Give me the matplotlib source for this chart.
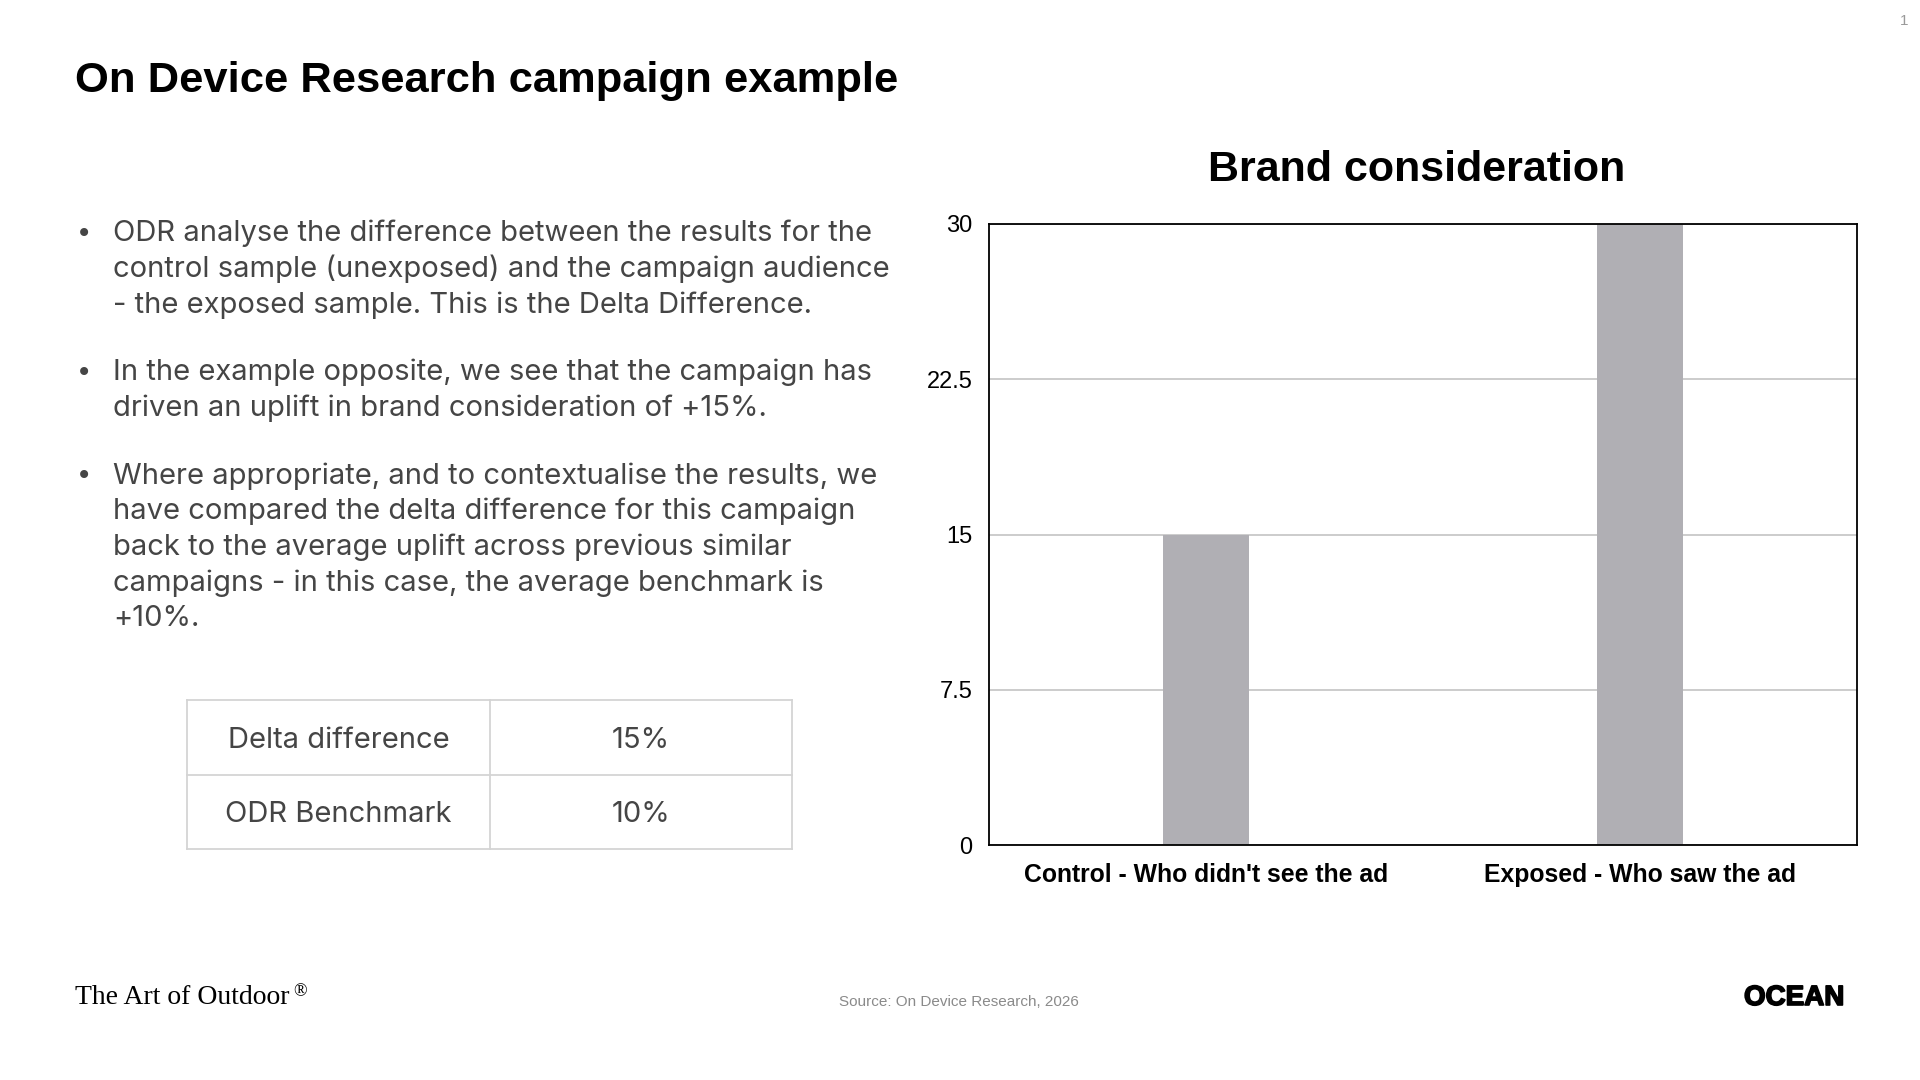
import matplotlib.pyplot as plt
import matplotlib.patheffects as pe

W, H = 1920, 1080

# chart data
categories = ["Control - Who didn't see the ad", "Exposed - Who saw the ad"]
values = [15, 30]
yticks = [0, 7.5, 15, 22.5, 30]
ytick_labels = ["0", "7.5", "15", "22.5", "30"]

# slide text
title = "On Device Research campaign example"
chart_title = "Brand consideration"
bullets = [
    ["ODR analyse the difference between the results for the",
     "control sample (unexposed) and the campaign audience",
     "- the exposed sample. This is the Delta Difference."],
    ["In the example opposite, we see that the campaign has",
     "driven an uplift in brand consideration of +15%."],
    ["Where appropriate, and to contextualise the results, we",
     "have compared the delta difference for this campaign",
     "back to the average uplift across previous similar",
     "campaigns - in this case, the average benchmark is",
     "+10%."],
]
table_rows = [["Delta difference", "15%"], ["ODR Benchmark", "10%"]]

fig = plt.figure(figsize=(W / 100, H / 100), dpi=100)
fig.patch.set_facecolor("white")

def fx(px):
    return px / W

def fy(py):
    return 1 - py / H

# headline
fig.text(fx(75), fy(81), title, fontsize=31.3, fontweight="bold",
         family="Liberation Sans", va="center", ha="left", color="black")

# bullets
body_col = "#454545"
y = 233.5
for b in bullets:
    fig.text(fx(84), fy(y), "\u2022", fontsize=20, family="DejaVu Sans",
             va="center", ha="center", color=body_col)
    for line in b:
        fig.text(fx(113), fy(y), line, fontsize=21, family="Inter",
                 va="center", ha="left", color=body_col)
        y += 35.7
    y += 32

# table
tx0, tx1, txm = 187, 792, 490
ty0, ty1, tym = 700, 849, 775
grid_col = "#d4d4d4"
for yy in (ty0, tym, ty1):
    fig.add_artist(plt.Line2D([fx(tx0), fx(tx1)], [fy(yy), fy(yy)], color=grid_col, lw=1.3))
for xx in (tx0, txm, tx1):
    fig.add_artist(plt.Line2D([fx(xx), fx(xx)], [fy(ty0), fy(ty1)], color=grid_col, lw=1.3))
row_mid = [(ty0 + tym) / 2 + 3, (tym + ty1) / 2 + 3]
for r, row in enumerate(table_rows):
    fig.text(fx((tx0 + txm) / 2), fy(row_mid[r]), row[0], fontsize=21, family="Inter",
             va="center", ha="center", color=body_col)
    fig.text(fx((txm + tx1) / 2), fy(row_mid[r]), row[1], fontsize=21, family="Inter",
             va="center", ha="center", color=body_col)

# bar chart
ax = fig.add_axes([fx(989), fy(845), fx(1857) - fx(989), fy(224) - fy(845)])
x = range(len(categories))
ax.bar(x, values, width=0.2, color="#b0afb4", zorder=2)
ax.set_xlim(-0.5, 1.5)
ax.set_ylim(0, 30)
ax.set_yticks(yticks)
ax.set_yticklabels(ytick_labels, family="Liberation Sans", fontsize=17)
ax.set_xticks(list(x))
ax.set_xticklabels(categories, family="Liberation Sans", fontsize=17.8, fontweight="bold")
ax.tick_params(length=0, pad=12)
ax.tick_params(axis="x", pad=13)
ax.yaxis.grid(True, color="#c4c4c4", lw=1.2, zorder=1)
for s in ax.spines.values():
    s.set_color("black")
    s.set_linewidth(1.3)
fig.text(fx(1417), fy(170), chart_title, fontsize=31, fontweight="bold",
         family="Liberation Sans", va="center", ha="center", color="black")

# footer
fig.text(fx(75), fy(998), "The Art of Outdoor", fontsize=20, family="Liberation Serif",
         va="center", ha="left", color="black")
fig.text(fx(293), fy(992), "\u00ae", fontsize=13, family="Liberation Serif",
         va="center", ha="left", color="black")
fig.text(fx(959), fy(1002), "Source: On Device Research, 2026", fontsize=11,
         family="Liberation Sans", va="center", ha="center", color="#8a8a8a")
fig.text(fx(1844), fy(998), "OCEAN", fontsize=20, fontweight="bold", family="Liberation Sans",
         va="center", ha="right", color="black",
         path_effects=[pe.withStroke(linewidth=1.2, foreground="black")])
fig.text(fx(1908), fy(21), "1", fontsize=11, family="Liberation Sans",
         va="center", ha="right", color="#9a9a9a")

fig.savefig("out.png", dpi=100, facecolor="white")
